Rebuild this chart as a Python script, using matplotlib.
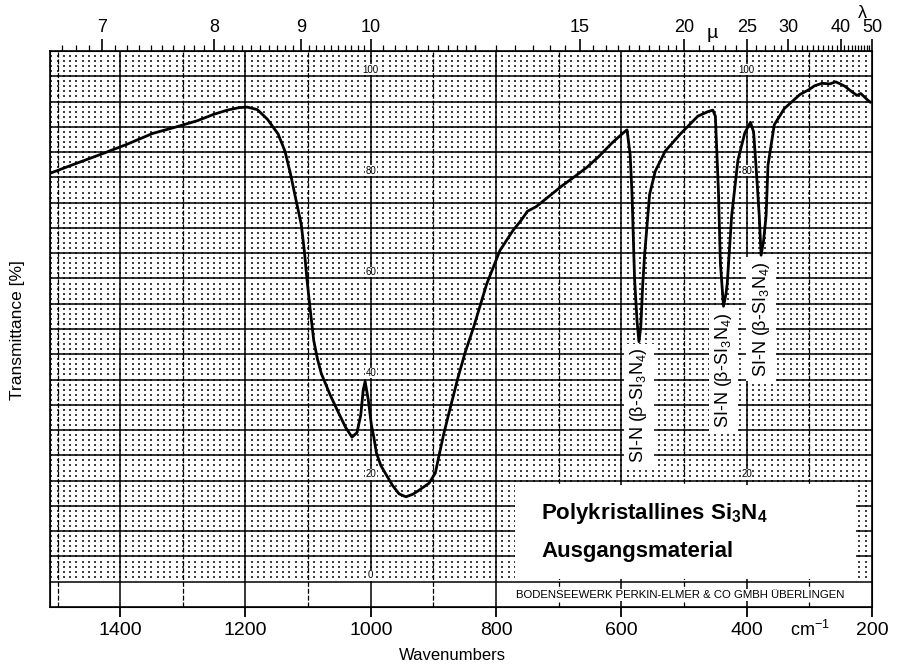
import numpy as np
import matplotlib
matplotlib.use("Agg")
import matplotlib.pyplot as plt
from matplotlib.patches import Rectangle

plt.rcParams['font.family'] = ['Liberation Sans', 'DejaVu Sans']
plt.rcParams['mathtext.fontset'] = 'custom'
plt.rcParams['mathtext.rm'] = 'Liberation Sans'
plt.rcParams['mathtext.it'] = 'Liberation Sans:italic'
plt.rcParams['mathtext.bf'] = 'Liberation Sans:bold'

# IR spectrum of polycrystalline Si3N4 (wavenumber in cm-1, transmittance in %)
wavenumber = [1512, 1480, 1430, 1390, 1348, 1310, 1277, 1250, 1229, 1210,
              1197, 1181, 1165, 1148, 1137, 1128, 1120, 1111, 1106, 1102,
              1097, 1091, 1085, 1079, 1065, 1051, 1040, 1030, 1022, 1016,
              1012, 1009, 1004, 999, 995, 991, 984, 976, 965, 955,
              944, 933, 923, 907, 897, 891, 884, 876, 861, 849,
              836, 815, 794, 773, 760, 750, 736, 715, 695, 673,
              655, 637, 615, 598, 591, 586, 583, 579, 575, 572,
              569, 566, 563, 555, 546, 530, 505, 478, 462, 454,
              450, 445, 442, 437, 433, 431, 424, 414, 403, 394,
              389, 385, 380, 377, 373, 369, 366, 356, 340, 315,
              300, 292, 280, 267, 258, 251, 243, 235, 224, 218,
              212, 207, 203]
transmittance = [80.8, 82.3, 84.6, 86.5, 88.7, 90.0, 91.2, 92.5, 93.3, 93.8,
                 93.9, 93.4, 91.5, 88.6, 85.2, 80.6, 75.9, 70.7, 65.4, 60.0,
                 54.2, 47.7, 44.0, 41.2, 37.0, 33.3, 30.5, 28.6, 29.5, 33.0,
                 38.0, 39.6, 36.0, 31.0, 28.5, 25.5, 23.0, 21.3, 19.0, 17.4,
                 16.8, 17.3, 18.1, 19.5, 21.5, 25.0, 29.0, 33.0, 40.3, 45.5,
                 50.3, 58.9, 65.5, 69.5, 71.5, 73.3, 74.2, 76.3, 78.3, 80.3,
                 82.0, 84.0, 86.8, 88.7, 89.4, 84.5, 76.6, 60.0, 51.5, 47.5,
                 50.5, 58.7, 64.6, 76.6, 81.2, 85.2, 88.7, 92.1, 93.0, 93.3,
                 92.1, 76.9, 63.0, 54.5, 57.0, 59.1, 72.4, 83.4, 88.8, 90.9,
                 89.0, 82.0, 72.5, 64.6, 67.5, 72.5, 82.4, 90.4, 93.6, 96.4,
                 97.4, 98.1, 98.6, 98.5, 98.9, 98.5, 98.0, 97.2, 96.2, 96.6,
                 95.9, 95.3, 94.9]

wn_ticks = [1400, 1200, 1000, 800, 600, 400, 200]
um_ticks = [7, 8, 9, 10, 15, 20, 25, 30, 40, 50]
scale_marks = [100, 80, 60, 40, 20, 0]      # printed along the 1000 cm-1 line
scale_marks_400 = [100, 80, 20]             # printed along the 400 cm-1 line
band_centers = [572, 437, 377]
band_label = 'SI-N (β-SI$_3$N$_4$)'
title_lines = ['Polykristallines Si$_\\mathbf{3}$N$_\\mathbf{4}$', 'Ausgangsmaterial']
maker = 'BODENSEEWERK PERKIN-ELMER & CO GMBH ÜBERLINGEN'

W, H = 902, 668
fig = plt.figure(figsize=(W / 100, H / 100), dpi=100)
ax = fig.add_axes([50 / W, 1 - 607 / H, (872 - 50) / W, (607 - 51) / H])
ax.set_xlim(1512, 200)
ax.set_ylim(-5, 105)

# chart paper: fine dot raster, 5 % rows, 100 cm-1 columns
gx, gy = np.meshgrid(np.arange(1510, 200, -10), np.arange(1, 105, 1))
ax.scatter(gx.ravel(), gy.ravel(), s=0.6, marker='s', c='0.25',
           linewidths=0, zorder=1)
for w in range(1500, 200, -100):
    if w % 200 == 0:
        ax.axvline(w, color='k', lw=1.1, zorder=1.2)
    else:
        ax.axvline(w, color='k', lw=0.9, ls=(0, (4, 1.5)), zorder=1.2)
for t in range(0, 101, 5):
    ax.axhline(t, color='k', lw=1.1, zorder=1.2)

# blank area for the sample caption
ax.add_patch(Rectangle((770, 0.6), 225 - 770, 18.6, fc='white', ec='none', zorder=2))

ax.plot(wavenumber, transmittance, color='k', lw=2.0, zorder=4,
        solid_joinstyle='round')

for t in scale_marks:
    ax.text(1000, t + 0.3, str(t), fontsize=7, ha='center', va='bottom', zorder=3,
            bbox=dict(fc='white', ec='none', pad=0.3))
for t in scale_marks_400:
    ax.text(400, t + 0.3, str(t), fontsize=7, ha='center', va='bottom', zorder=3,
            bbox=dict(fc='white', ec='none', pad=0.3))

for wc in band_centers:
    tip = np.interp(-wc, -np.array(wavenumber), transmittance)
    ax.text(wc, tip - 1.2, band_label, rotation=90, fontsize=13,
            ha='center', va='top', zorder=5,
            bbox=dict(fc='white', ec='none', pad=3))

ax.text(728, 13.5, title_lines[0], fontsize=16, fontweight='bold',
        ha='left', va='center', zorder=5)
ax.text(728, 6.0, title_lines[1], fontsize=16, fontweight='bold',
        ha='left', va='center', zorder=5)
ax.text(506, -2.6, maker, fontsize=8.2, ha='center', va='center', zorder=5,
        bbox=dict(fc='white', ec='none', pad=1))

for s in ax.spines.values():
    s.set_linewidth(1.2)
ax.set_yticks([])
ax.set_xticks(wn_ticks)
ax.set_xticklabels([str(t) for t in wn_ticks], fontsize=14)
ax.tick_params(axis='x', direction='out', length=7, width=1.3, pad=4)

# wavelength scale in micrometres along the top
top = ax.twiny()
top.set_xlim(ax.get_xlim())
um_minor = np.r_[np.arange(6.7, 10, 0.1), np.arange(10.2, 12, 0.2),
                 np.arange(12, 20, 0.5), np.arange(21, 50, 1)]
um_minor = [u for u in um_minor if not np.isclose(u, um_ticks).any()]
top.set_xticks([1e4 / u for u in um_ticks])
top.set_xticklabels([str(u) for u in um_ticks], fontsize=13)
top.set_xticks([1e4 / u for u in um_minor], minor=True)
top.tick_params(axis='x', which='major', direction='out', length=9, width=1.2, pad=2)
top.tick_params(axis='x', which='minor', direction='out', length=4, width=0.9)
top.set_yticks([])

fig.text(712 / W, 1 - 34 / H, 'µ', fontsize=14, ha='center', va='center')
fig.text(862 / W, 1 - 13 / H, 'λ', fontsize=13, ha='center', va='center')
fig.text(810 / W, 1 - 630 / H, 'cm$^{-1}$', fontsize=13, ha='center', va='center')
fig.text(452 / W, 1 - 655 / H, 'Wavenumbers', fontsize=12, ha='center', va='center')
fig.text(18 / W, 1 - 330 / H, 'Transmittance [%]', fontsize=12.5,
         rotation=90, ha='center', va='center')

fig.savefig('out.png', dpi=100)
